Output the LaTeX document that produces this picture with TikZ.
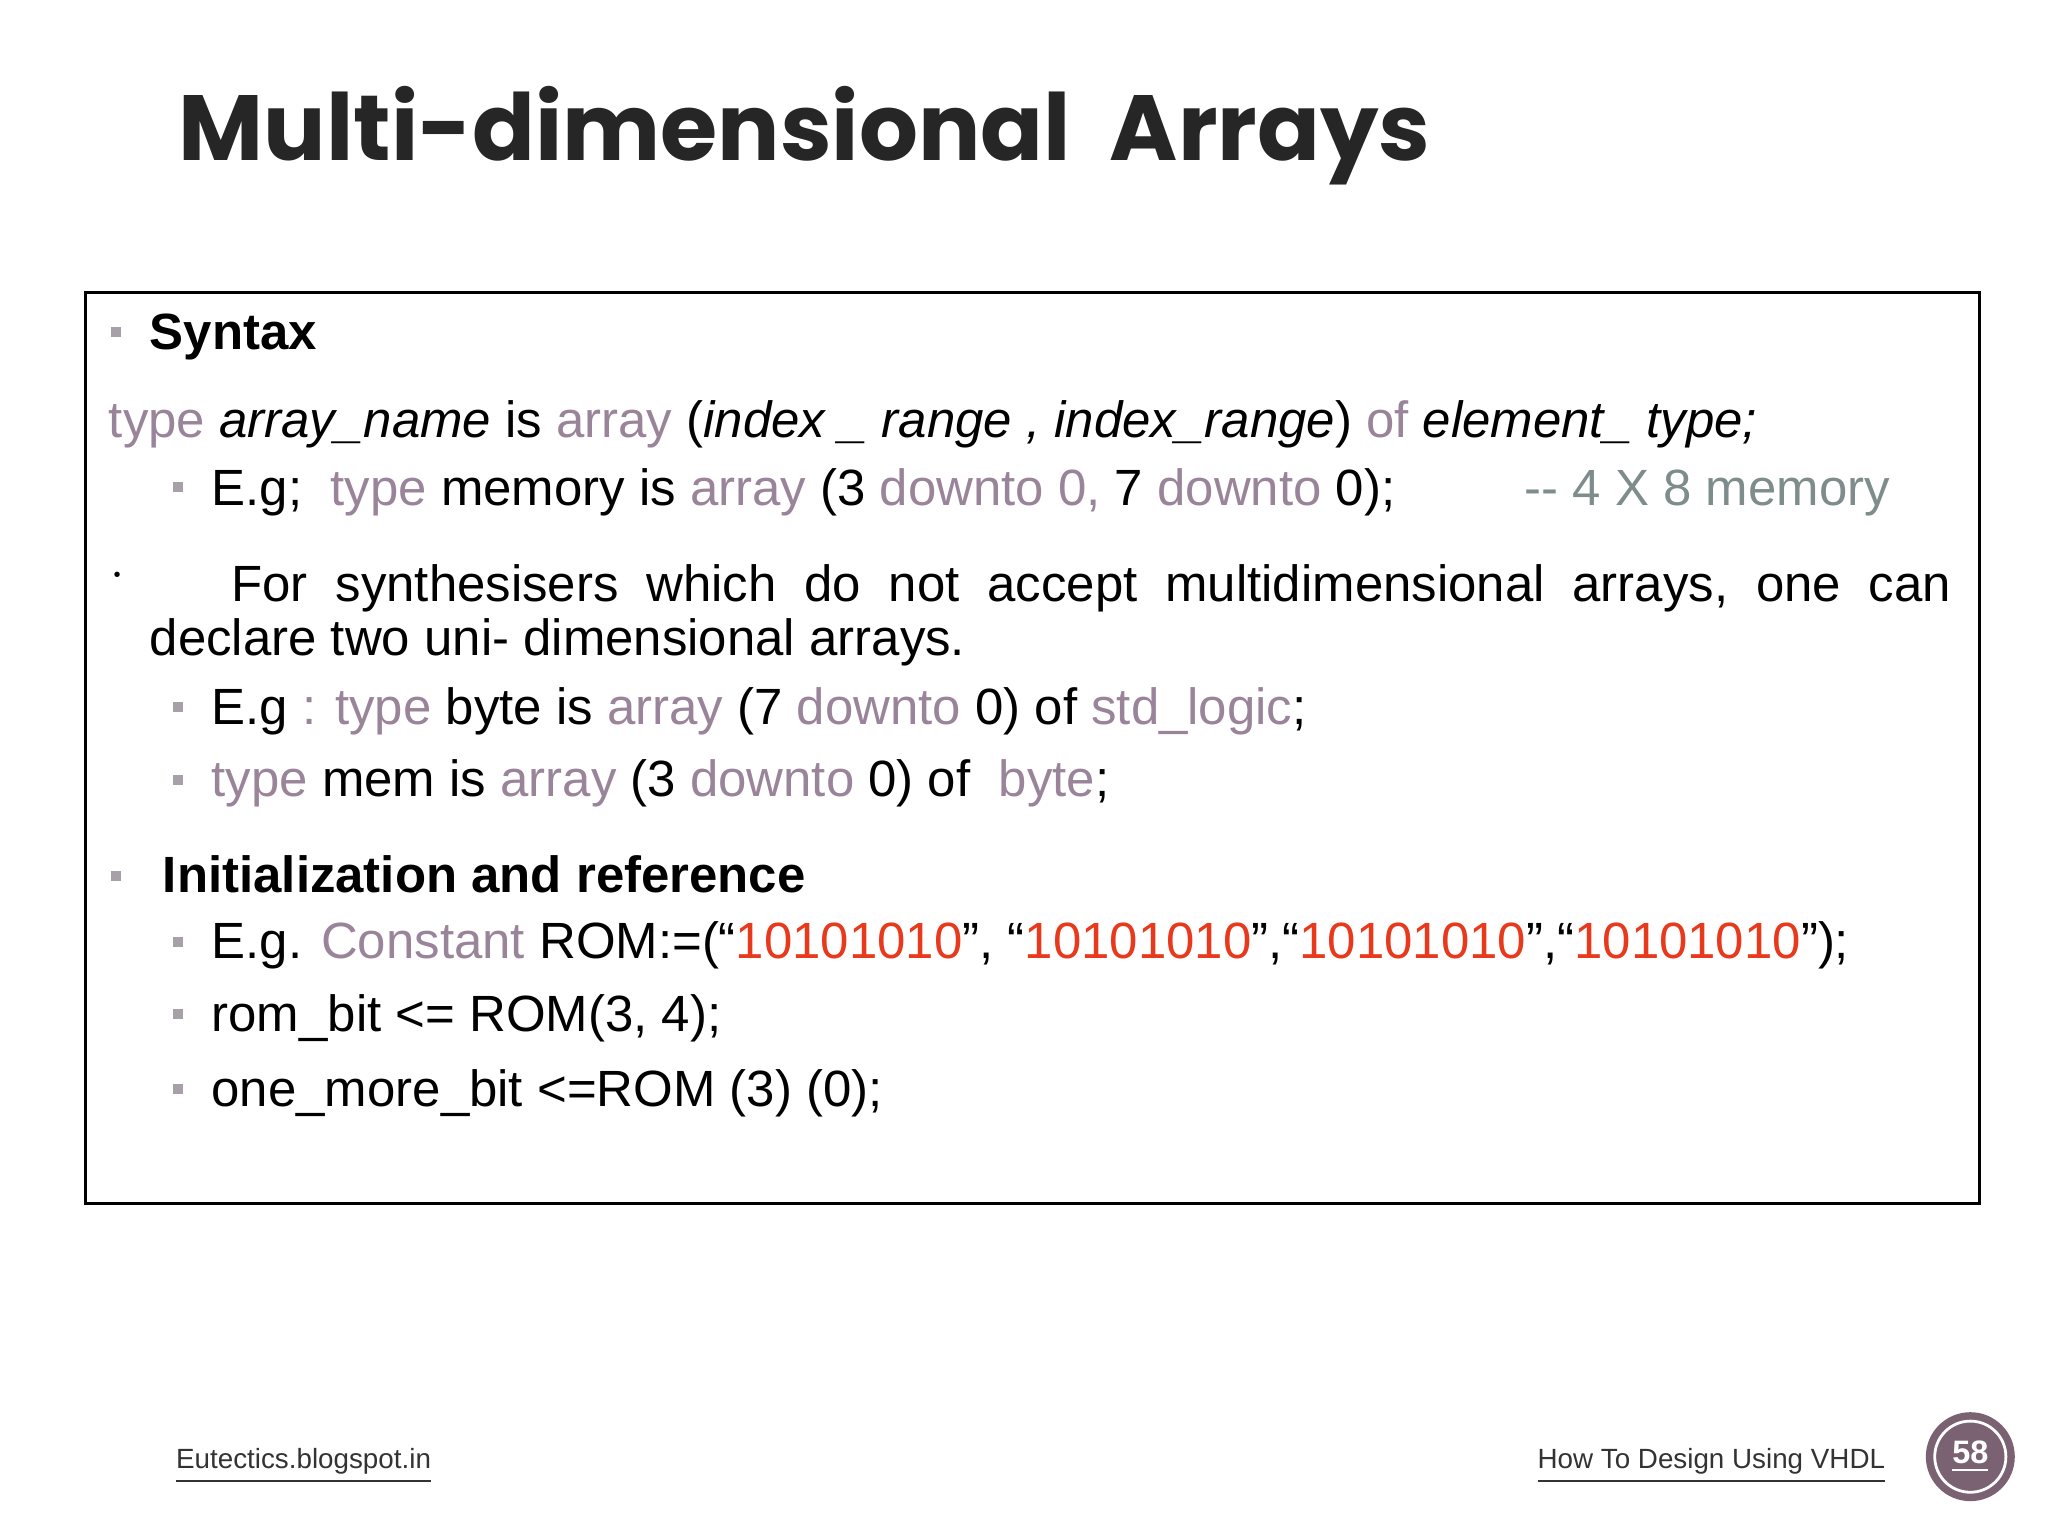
\documentclass[tikz,border=0pt]{standalone}
\usepackage{fontspec}
\setmainfont{Liberation Sans}
\newfontfamily\titlefont{Poppins}
\definecolor{kw}{HTML}{9A8499}
\definecolor{rd}{HTML}{E8391C}
\definecolor{cm}{HTML}{7E8C8C}
\definecolor{bul}{HTML}{A8A0A8}
\definecolor{badge}{HTML}{7A6272}
\tikzset{
  txt/.style={anchor=base west,inner sep=0,font=\fontsize{11}{13}\selectfont},
  bsq/.style={fill=bul,inner sep=0,minimum size=0.075cm}
}
\newcommand{\kwc}[1]{\textcolor{kw}{#1}}
\newcommand{\rr}[1]{\textcolor{rd}{#1}}
\begin{document}
\begin{tikzpicture}[x=0.01cm,y=-0.01cm]
\useasboundingbox (0,0) rectangle (1555,1166);
\node[anchor=base west,inner sep=0,font=\titlefont\bfseries\fontsize{20}{24}\selectfont,text=black!85] (title) at (135,122) {Multi-dimensional\ \ Arrays};
\draw[line width=0.7pt] (65,222) rectangle (1503,914);
\node[bsq] (b1) at (88,252) {};
\node[txt] (syn) at (113,265) {\bfseries Syntax};
\node[txt] (l1) at (82,332) {\kwc{type} \textit{array\_name} is \kwc{array} (\textit{index \_ range , index\_range}) \kwc{of} \textit{element\_ type;}};
\node[bsq] (b2) at (135,370) {};
\node[txt] (l2) at (160,384) {E.g;\ \ \kwc{type} memory is \kwc{array} (3 \kwc{downto 0,} 7 \kwc{downto} 0);};
\node[txt] (l2c) at (1157,384) {\textcolor{cm}{{-}{-} 4 X 8 memory}};
\node[txt] (dot) at (83,446) {$\cdot$};
\node[txt] (p1) at (175,457) {\hbox to 13.05cm{For\hfill synthesisers\hfill which\hfill do\hfill not\hfill accept\hfill multidimensional\hfill arrays,\hfill one\hfill can}};
\node[txt] (p2) at (113,498) {declare two uni- dimensional arrays.};
\node[bsq] (b3) at (135,537) {};
\node[txt] (l3) at (160,550) {E.g \kwc{: type} byte is \kwc{array} (7 \kwc{downto} 0) of \kwc{std\_logic};};
\node[bsq] (b4) at (135,592) {};
\node[txt] (l4) at (160,605) {\kwc{type} mem is \kwc{array} (3 \kwc{downto} 0) of\ \ \kwc{byte};};
\node[bsq] (b5) at (88,665) {};
\node[txt] (ini) at (123,678) {\bfseries Initialization and reference};
\node[bsq] (b6) at (135,715) {};
\node[txt] (l6) at (160,728) {E.g. \kwc{Constant} ROM:=(“\rr{10101010}”, “\rr{10101010}”,“\rr{10101010}”,“\rr{10101010}”);};
\node[bsq] (b7) at (135,770) {};
\node[txt] (l7) at (160,783) {rom\_bit <= ROM(3, 4);};
\node[bsq] (b8) at (135,827) {};
\node[txt] (l8) at (160,840) {one\_more\_bit <=ROM (3) (0);};
\node[anchor=base west,inner sep=0,font=\fontsize{6}{7}\selectfont,text=black!80] (f1) at (133,1115) {\underline{Eutectics.blogspot.in}};
\node[anchor=base east,inner sep=0,font=\fontsize{6}{7}\selectfont,text=black!80] (f2) at (1432,1115) {\underline{How To Design Using VHDL}};
\node[circle,fill=badge,draw=badge,line width=1pt,minimum size=0.64cm,inner sep=0] (c) at (1496,1106) {};
\draw[white,line width=0.6pt] (c.center) circle (0.27cm);
\node[text=white,font=\bfseries\fontsize{7}{8}\selectfont,inner sep=0] (n58) at (c.center) {\underline{58}};
\end{tikzpicture}
\end{document}
